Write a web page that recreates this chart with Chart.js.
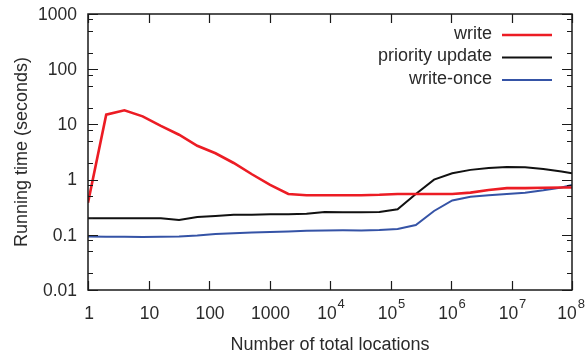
<!DOCTYPE html>
<html>
<head>
<meta charset="utf-8">
<script src="https://cdn.jsdelivr.net/npm/chart.js@4.4.1/dist/chart.umd.min.js"></script>
<style>
  html, body { margin: 0; padding: 0; background: #fff; }
  #wrap { width: 586px; height: 356px; }
</style>
</head>
<body>
<div id="wrap"><canvas id="timeChart" width="586" height="356"></canvas></div>
<script>
(function () {
    'use strict';

    // problem sizes (number of total locations)
    var locations = [
        1, 2, 4, 8, 16, 32, 64, 128, 256, 512, 1024, 2048, 4096, 8192,
        16384, 32768, 65536, 131072, 262144, 524288, 1048576, 2097152,
        4194304, 8388608, 16777216, 33554432, 67108864, 100000000
    ];
    var writeTimes = [
        0.38, 15, 18, 14, 9.4, 6.5, 4.1, 3.0, 2.0, 1.25, 0.8, 0.55, 0.52, 0.52,
        0.52, 0.52, 0.53, 0.55, 0.55, 0.55, 0.55, 0.58, 0.65, 0.70, 0.70, 0.71,
        0.72, 0.72
    ];
    var priorityTimes = [
        0.2, 0.2, 0.2, 0.2, 0.2, 0.185, 0.21, 0.22, 0.23, 0.23, 0.235, 0.235,
        0.24, 0.26, 0.255, 0.255, 0.26, 0.29, 0.55, 1.0, 1.3, 1.5, 1.62, 1.7,
        1.68, 1.55, 1.4, 1.3
    ];
    var writeOnceTimes = [
        0.093, 0.092, 0.092, 0.091, 0.092, 0.093, 0.097, 0.103, 0.107, 0.11,
        0.112, 0.115, 0.118, 0.12, 0.121, 0.12, 0.122, 0.128, 0.15, 0.27, 0.42,
        0.49, 0.52, 0.55, 0.58, 0.64, 0.72, 0.8
    ];

    var seriesNames = ['write', 'priority update', 'write-once'];
    var seriesColors = ['#ec1c24', '#111111', '#3553a6'];

    var xTicks = [1, 10, 100, 1000, 1e4, 1e5, 1e6, 1e7, 1e8];
    var xTickLabels = ['1', '10', '100', '1000', '10^4', '10^5', '10^6', '10^7', '10^8'];
    var yTicks = [0.01, 0.1, 1, 10, 100, 1000];
    var yTickLabels = ['0.01', '0.1', '1', '10', '100', '1000'];

    var FONT = '"Liberation Sans", Arial, Helvetica, sans-serif';
    var TEXT = '#2a2a2a';

    function points(ys) {
        return locations.map(function (x, i) { return { x: x, y: ys[i] }; });
    }

    // frame, inward ticks, labels, titles and legend
    var framePlugin = {
        id: 'frame',
        afterDraw: function (chart) {
            var ctx = chart.ctx;
            var a = chart.chartArea;
            var xs = chart.scales.x;
            var ys = chart.scales.y;

            ctx.save();
            ctx.strokeStyle = '#1a1a1a';
            ctx.lineWidth = 1.5;
            ctx.strokeRect(a.left, a.top, a.right - a.left, a.bottom - a.top);

            ctx.lineWidth = 1.2;
            ctx.beginPath();
            xTicks.forEach(function (v) {
                var px = Math.round(xs.getPixelForValue(v)) + 0.5;
                ctx.moveTo(px, a.bottom); ctx.lineTo(px, a.bottom - 9);
                ctx.moveTo(px, a.top); ctx.lineTo(px, a.top + 9);
            });
            yTicks.forEach(function (v, i) {
                var py = Math.round(ys.getPixelForValue(v)) + 0.5;
                ctx.moveTo(a.left, py); ctx.lineTo(a.left + 10, py);
                ctx.moveTo(a.right, py); ctx.lineTo(a.right - 10, py);
                if (i < yTicks.length - 1) {
                    [2, 5, 8].forEach(function (m) {
                        var my = Math.round(ys.getPixelForValue(v * m)) + 0.5;
                        ctx.moveTo(a.left, my); ctx.lineTo(a.left + 5, my);
                        ctx.moveTo(a.right, my); ctx.lineTo(a.right - 5, my);
                    });
                }
            });
            ctx.stroke();

            ctx.fillStyle = TEXT;
            ctx.textBaseline = 'middle';

            // y tick labels
            ctx.font = '17.5px ' + FONT;
            ctx.textAlign = 'right';
            yTicks.forEach(function (v, i) {
                ctx.fillText(yTickLabels[i], a.left - 11, ys.getPixelForValue(v) + 1);
            });

            // x tick labels, with exponents raised
            xTicks.forEach(function (v, i) {
                var px = xs.getPixelForValue(v) + 1;
                var parts = xTickLabels[i].split('^');
                var ly = a.bottom + 24;
                ctx.font = '17.5px ' + FONT;
                var bw = ctx.measureText(parts[0]).width;
                var ew = 0;
                if (parts[1]) {
                    ctx.font = '13px ' + FONT;
                    ew = ctx.measureText(parts[1]).width + 1;
                }
                var left = Math.min(px - (bw + ew) / 2, chart.width - 1 - bw - ew);
                ctx.textAlign = 'left';
                ctx.font = '17.5px ' + FONT;
                ctx.fillText(parts[0], left, ly);
                if (parts[1]) {
                    ctx.font = '13px ' + FONT;
                    ctx.fillText(parts[1], left + bw + 1, ly - 10);
                }
            });

            // axis titles
            ctx.font = '18px ' + FONT;
            ctx.textAlign = 'center';
            ctx.fillText('Number of total locations', (a.left + a.right) / 2, 345);
            ctx.save();
            ctx.translate(22, (a.top + a.bottom) / 2);
            ctx.rotate(-Math.PI / 2);
            ctx.fillText('Running time (seconds)', 0, 0);
            ctx.restore();

            // legend, text right-aligned before its line sample
            ctx.textAlign = 'right';
            chart.data.datasets.forEach(function (ds, i) {
                var ly = 34 + i * 22.5;
                ctx.fillStyle = TEXT;
                ctx.fillText(ds.label, 492, ly);
                ctx.strokeStyle = ds.borderColor;
                ctx.lineWidth = ds.borderWidth;
                ctx.beginPath();
                ctx.moveTo(502, ly + 1);
                ctx.lineTo(552, ly + 1);
                ctx.stroke();
            });
            ctx.restore();
        }
    };

    var ctx = document.getElementById('timeChart').getContext('2d');

    new Chart(ctx, {
        type: 'line',
        data: {
            datasets: [
                { label: seriesNames[0], data: points(writeTimes), borderColor: seriesColors[0], borderWidth: 2.6 },
                { label: seriesNames[1], data: points(priorityTimes), borderColor: seriesColors[1], borderWidth: 2 },
                { label: seriesNames[2], data: points(writeOnceTimes), borderColor: seriesColors[2], borderWidth: 2 }
            ]
        },
        options: {
            responsive: false,
            animation: false,
            devicePixelRatio: 1,
            layout: { padding: { left: 88, right: 14, top: 14, bottom: 66 } },
            elements: {
                point: { radius: 0 },
                line: { tension: 0, fill: false }
            },
            scales: {
                x: { type: 'logarithmic', min: 1, max: 1e8, display: false },
                y: { type: 'logarithmic', min: 0.01, max: 1000, display: false }
            },
            plugins: {
                legend: { display: false },
                tooltip: { enabled: false }
            }
        },
        plugins: [framePlugin]
    });
}());
</script>
</body>
</html>
